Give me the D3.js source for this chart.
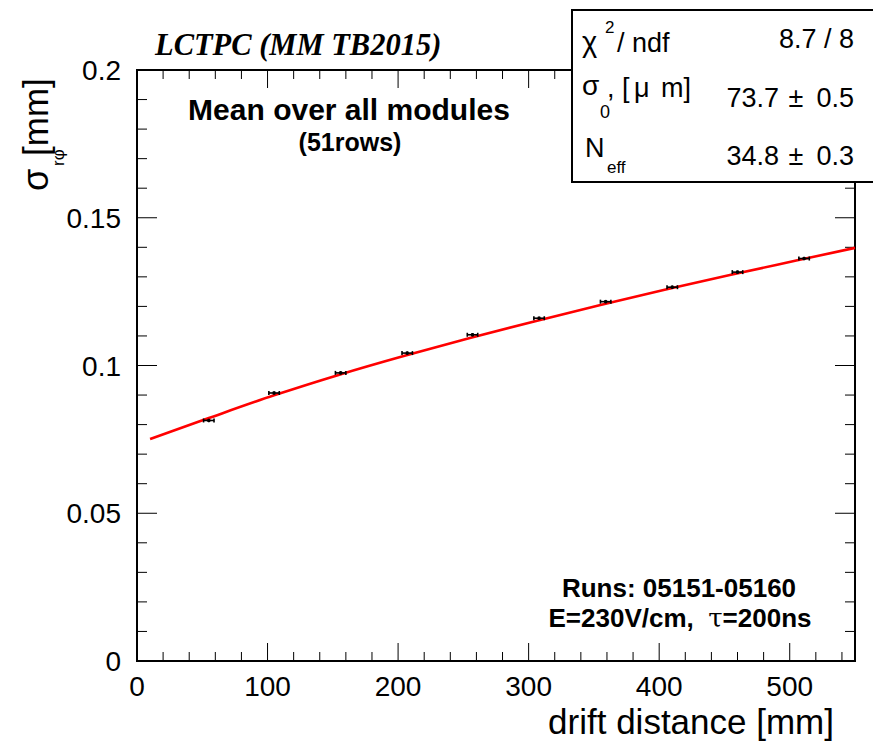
<!DOCTYPE html>
<html>
<head>
<meta charset="utf-8">
<script src="https://cdn.jsdelivr.net/npm/d3@7"></script>
<style>
  html, body { margin: 0; padding: 0; background: #fff; }
  svg { display: block; }
  text { font-family: "Liberation Sans", Arial, sans-serif; fill: #000; }
</style>
</head>
<body>
<div id="chart"></div>
<script>
// measured points (drift distance [mm], sigma [mm])
const driftDist = [55, 105, 156, 207, 257, 308, 359, 410, 460, 511];
const sigmaVals = [0.0814, 0.0907, 0.0975, 0.1042, 0.1104, 0.1160, 0.1216, 0.1265, 0.1316, 0.1362];
const driftErr = [4, 4, 4, 4, 4, 4, 4, 4, 4, 4];
const sigmaErr = [0.0006, 0.0006, 0.0006, 0.0006, 0.0006, 0.0006, 0.0006, 0.0006, 0.0006, 0.0006];

// fit curve
const fitX = [10, 55, 105, 155, 205, 255, 305, 355, 405, 455, 505, 550];
const fitY = [0.0751, 0.0822, 0.0899, 0.0969, 0.1033, 0.1093, 0.1150, 0.1205, 0.1257, 0.1307, 0.1355, 0.1398];

const xTicks = [0, 100, 200, 300, 400, 500];
const yTicks = [0, 0.05, 0.1, 0.15, 0.2];
const yTickLabels = ["0", "0.05", "0.1", "0.15", "0.2"];

// fit results shown in the stats box
const chi2Text = '8.7 / 8';
const fitVals = ['73.7', '34.8'];
const fitErrs = ['0.5', '0.3'];

const width = 873, height = 744;
const margin = { top: 70, right: 18, bottom: 83, left: 137 };

const svg = d3.select('#chart').append('svg')
    .attr('width', width)
    .attr('height', height);

const x = d3.scaleLinear()
    .domain([0, 550])
    .range([margin.left, width - margin.right]);

const y = d3.scaleLinear()
    .domain([0, 0.2])
    .range([height - margin.bottom, margin.top]);

const x0 = x(0), x1 = x(550), y0 = y(0), y1 = y(0.2);

// ticks (ROOT style: on all four sides, pointing inwards)
const tickG = svg.append('g').attr('stroke', '#000').attr('stroke-width', 1);
d3.range(0, 551, 20).forEach(v => {
    const len = v % 100 === 0 ? 18 : 9;
    tickG.append('line').attr('x1', x(v)).attr('x2', x(v)).attr('y1', y0).attr('y2', y0 - len);
    tickG.append('line').attr('x1', x(v)).attr('x2', x(v)).attr('y1', y1).attr('y2', y1 + len);
});
d3.range(0, 21).forEach(i => {
    const v = i / 100;
    const len = i % 5 === 0 ? 20 : 10;
    tickG.append('line').attr('x1', x0).attr('x2', x0 + len).attr('y1', y(v)).attr('y2', y(v));
    tickG.append('line').attr('x1', x1).attr('x2', x1 - len).attr('y1', y(v)).attr('y2', y(v));
});

// frame
svg.append('rect')
    .attr('x', x0).attr('y', y1)
    .attr('width', x1 - x0).attr('height', y0 - y1)
    .attr('fill', 'none')
    .attr('stroke', '#000')
    .attr('stroke-width', 2);

// tick labels
svg.append('g').selectAll('text')
    .data(xTicks)
    .join('text')
    .attr('x', d => x(d))
    .attr('y', 696)
    .attr('text-anchor', 'middle')
    .style('font-size', '28px')
    .text(d => d);

svg.append('g').selectAll('text')
    .data(yTicks)
    .join('text')
    .attr('x', 121)
    .attr('y', d => y(d))
    .attr('dy', '0.36em')
    .attr('text-anchor', 'end')
    .style('font-size', '28px')
    .text((d, i) => yTickLabels[i]);

// axis titles
svg.append('text')
    .attr('x', 834)
    .attr('y', 734)
    .attr('text-anchor', 'end')
    .style('font-size', '35px')
    .text('drift distance [mm]');

const yTitle = svg.append('g').attr('transform', 'translate(48,191) rotate(-90)');
yTitle.append('text').attr('x', 0).attr('y', 0).style('font-size', '36px').text('σ');
yTitle.append('text').attr('x', 25).attr('y', 16).style('font-size', '17px').text('rφ');
yTitle.append('text').attr('x', 35).attr('y', 0).style('font-size', '35px').text('[mm]');

// fit curve
const line = d3.line()
    .x((d, i) => x(fitX[i]))
    .y(d => y(d))
    .curve(d3.curveMonotoneX);

svg.append('path')
    .attr('d', line(fitY))
    .attr('fill', 'none')
    .attr('stroke', '#ff0000')
    .attr('stroke-width', 2.6);

// data points with error bars
const pts = svg.append('g').attr('stroke', '#000').attr('stroke-width', 1.6);
driftDist.forEach((d, i) => {
    const cx = x(d), cy = y(sigmaVals[i]);
    const xl = x(d - driftErr[i]), xr = x(d + driftErr[i]);
    const yt = y(sigmaVals[i] + sigmaErr[i]), yb = y(sigmaVals[i] - sigmaErr[i]);
    pts.append('line').attr('x1', xl).attr('x2', xr).attr('y1', cy).attr('y2', cy);
    pts.append('line').attr('x1', xl).attr('x2', xl).attr('y1', cy - 2).attr('y2', cy + 2);
    pts.append('line').attr('x1', xr).attr('x2', xr).attr('y1', cy - 2).attr('y2', cy + 2);
    pts.append('line').attr('x1', cx).attr('x2', cx).attr('y1', yt).attr('y2', yb);
    pts.append('rect').attr('x', cx - 1.5).attr('y', cy - 1.5).attr('width', 3).attr('height', 3)
        .attr('fill', '#000').attr('stroke', 'none');
});

// labels inside the frame
svg.append('text')
    .attr('x', 349).attr('y', 120)
    .attr('text-anchor', 'middle')
    .style('font-size', '30px').style('font-weight', 'bold')
    .text('Mean over all modules');

svg.append('text')
    .attr('x', 350).attr('y', 151)
    .attr('text-anchor', 'middle')
    .style('font-size', '25px').style('font-weight', 'bold')
    .text('(51rows)');

svg.append('text')
    .attr('x', 679).attr('y', 597)
    .attr('text-anchor', 'middle')
    .style('font-size', '26px').style('font-weight', 'bold')
    .text('Runs: 05151-05160');

const eText = svg.append('text')
    .attr('x', 680).attr('y', 627)
    .attr('text-anchor', 'middle')
    .style('font-size', '26px').style('font-weight', 'bold')
    .style('white-space', 'pre');
eText.append('tspan').text('E=230V/cm,  ');
eText.append('tspan').style('font-family', '"DejaVu Serif", serif').style('font-weight', 'normal').text('τ');
eText.append('tspan').text('=200ns');

// title
svg.append('text')
    .attr('x', 155).attr('y', 55)
    .style('font-family', '"Liberation Serif", "Times New Roman", serif')
    .style('font-size', '30.5px')
    .style('font-weight', 'bold')
    .style('font-style', 'italic')
    .text('LCTPC (MM TB2015)');

// stats box
const stats = svg.append('g');
stats.append('rect')
    .attr('x', 572).attr('y', 10)
    .attr('width', 320).attr('height', 172)
    .attr('fill', '#fff')
    .attr('stroke', '#000')
    .attr('stroke-width', 2);

const statFont = '27px';
// row 1: chi2 / ndf
stats.append('text').attr('x', 582).attr('y', 52).style('font-size', '29px').text('χ');
stats.append('text').attr('x', 605).attr('y', 33).style('font-size', '17px').text('2');
stats.append('text').attr('x', 617).attr('y', 52).style('font-size', statFont).text('/ ndf');
stats.append('text').attr('x', 854).attr('y', 48).attr('text-anchor', 'end')
    .style('font-size', statFont).text(chi2Text);

// row 2: sigma_0
stats.append('text').attr('x', 582).attr('y', 95).style('font-size', '28px').text('σ');
stats.append('text').attr('x', 600).attr('y', 118).style('font-size', '18px').text('0');
stats.append('text').attr('x', 607).attr('y', 97).style('font-size', statFont).text(', [');
stats.append('text').attr('x', 634).attr('y', 97).style('font-size', statFont).text('μ');
stats.append('text').attr('x', 661).attr('y', 97).style('font-size', statFont).text('m]');

// row 3: N_eff
stats.append('text').attr('x', 585).attr('y', 157).style('font-size', statFont).text('N');
stats.append('text').attr('x', 607).attr('y', 173).style('font-size', '17px').text('eff');

// value +- error columns
const valBase = [107, 165];
fitVals.forEach((v, i) => {
    stats.append('text').attr('x', 779).attr('y', valBase[i]).attr('text-anchor', 'end')
        .style('font-size', statFont).text(v);
    stats.append('text').attr('x', 796).attr('y', valBase[i]).attr('text-anchor', 'middle')
        .style('font-size', statFont).text('\u00b1');
    stats.append('text').attr('x', 854).attr('y', valBase[i]).attr('text-anchor', 'end')
        .style('font-size', statFont).text(fitErrs[i]);
});
</script>
</body>
</html>
